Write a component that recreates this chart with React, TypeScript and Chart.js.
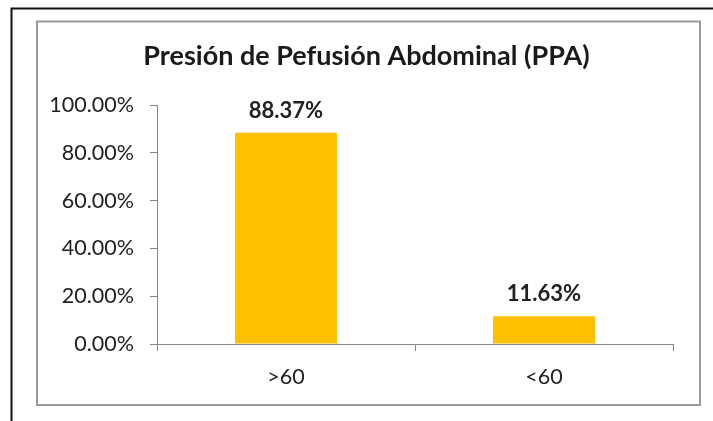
import React, { useEffect, useRef } from "react";
import { Chart, registerables } from "chart.js";

Chart.register(...registerables);

const titleText = "Presión de Pefusión Abdominal (PPA)";
const categories = [">60", "<60"];
const values = [88.37, 11.63];
const yTicks = [0, 20, 40, 60, 80, 100];

const framePlugin = {
  id: "frames",
  beforeDraw(chart: any) {
    const ctx = chart.ctx;
    ctx.save();
    ctx.fillStyle = "#ffffff";
    ctx.fillRect(0, 0, chart.width, chart.height);
    ctx.strokeStyle = "#111111";
    ctx.lineWidth = 2;
    ctx.beginPath();
    ctx.moveTo(11.5, chart.height);
    ctx.lineTo(11.5, 8.5);
    ctx.lineTo(chart.width, 8.5);
    ctx.stroke();
    ctx.strokeStyle = "#9a9a9a";
    ctx.lineWidth = 2;
    ctx.strokeRect(37, 21.5, 663, 383.5);
    ctx.restore();
  },
};

const titlePlugin = {
  id: "customTitle",
  afterDraw(chart: any) {
    const ctx = chart.ctx;
    ctx.save();
    ctx.font = "bold 27px Lato";
    ctx.fillStyle = "#1a1a1a";
    ctx.textAlign = "center";
    ctx.textBaseline = "alphabetic";
    ctx.fillText(titleText, 366.5, 65);
    ctx.restore();
  },
};

const valueLabelPlugin = {
  id: "valueLabels",
  afterDatasetsDraw(chart: any) {
    const ctx = chart.ctx;
    const meta = chart.getDatasetMeta(0);
    ctx.save();
    ctx.font = "bold 22px Lato";
    ctx.fillStyle = "#222222";
    ctx.textAlign = "center";
    ctx.textBaseline = "alphabetic";
    meta.data.forEach((bar: any, i: number) => {
      ctx.fillText(values[i].toFixed(2) + "%", bar.x, bar.y - 15);
    });
    ctx.restore();
  },
};

export default function App() {
  const ref = useRef<HTMLCanvasElement | null>(null);
  useEffect(() => {
    if (!ref.current) return;
    const chart = new Chart(ref.current, {
      type: "bar",
      data: {
        labels: categories,
        datasets: [
          {
            data: values,
            backgroundColor: "#FFC000",
            borderWidth: 0,
            barPercentage: 0.395,
            categoryPercentage: 1,
          },
        ],
      },
      options: {
        responsive: false,
        animation: false,
        devicePixelRatio: 1,
        layout: { padding: { left: 40, right: 40, top: 105, bottom: 0 } },
        plugins: {
          legend: { display: false },
          tooltip: { enabled: false },
          title: { display: false },
        },
        scales: {
          x: {
            grid: {
              display: true,
              drawOnChartArea: false,
              drawTicks: true,
              tickLength: 7,
              tickColor: "#868686",
              offset: true,
            },
            border: { display: true, color: "#868686", width: 1 },
            ticks: {
              color: "#222222",
              font: { family: "Lato", size: 21.5 },
              padding: 13,
              maxRotation: 0,
            },
            afterFit(scale: any) {
              scale.height = 77;
            },
          },
          y: {
            min: 0,
            max: 100,
            afterBuildTicks(scale: any) {
              scale.ticks = yTicks.map((v) => ({ value: v }));
            },
            grid: {
              display: true,
              drawOnChartArea: false,
              drawTicks: true,
              tickLength: 7,
              tickColor: "#868686",
            },
            border: { display: true, color: "#868686", width: 1 },
            ticks: {
              color: "#222222",
              font: { family: "Lato", size: 21.5 },
              padding: 16,
              callback: (v: any) => Number(v).toFixed(2) + "%",
            },
            afterFit(scale: any) {
              scale.width = 117;
            },
          },
        },
      },
      plugins: [framePlugin, valueLabelPlugin, titlePlugin],
    });
    return () => chart.destroy();
  }, []);
  return (
    <div style={{ position: "absolute", left: 0, top: 0, width: 713, height: 421 }}>
      <canvas ref={ref} width={713} height={421} style={{ display: "block" }} />
    </div>
  );
}
